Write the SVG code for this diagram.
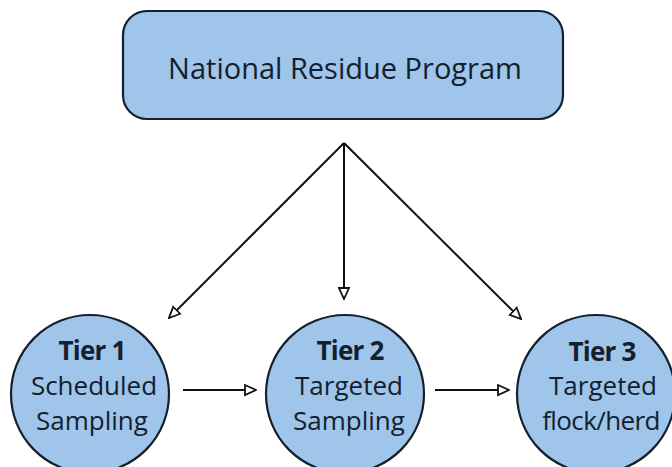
<svg xmlns="http://www.w3.org/2000/svg" width="672" height="467" viewBox="0 0 672 467">
<defs>
<style>
.node{fill:#9fc5eb;stroke:#16202c;stroke-width:2.2}
.t{font-family:"Open Sans","Noto Sans","Liberation Sans",sans-serif;fill:#14202e;text-anchor:middle}
.b{font-weight:bold;font-size:26px;letter-spacing:-0.8px}
.r{font-size:26px}
.c{stroke:#111;stroke-width:2;fill:none}
</style>
<marker id="ah" viewBox="0 0 13 13" refX="12" refY="6.5" markerWidth="13" markerHeight="13" markerUnits="userSpaceOnUse" orient="auto">
<path d="M1,1.5 L12,6.5 L1,11.5 Z" fill="#fff" stroke="#111" stroke-width="1.8" stroke-linejoin="miter"/>
</marker>
</defs>
<rect width="672" height="467" fill="#fff"/>
<g id="connectors">
<line class="c" x1="344" y1="143" x2="169" y2="318" marker-end="url(#ah)"/>
<line class="c" x1="344" y1="143" x2="344" y2="299" marker-end="url(#ah)"/>
<line class="c" x1="344" y1="143" x2="521" y2="319" marker-end="url(#ah)"/>
<line class="c" x1="183" y1="390" x2="256" y2="390" marker-end="url(#ah)"/>
<line class="c" x1="435" y1="390" x2="509" y2="390" marker-end="url(#ah)"/>
</g>
<g id="national">
<rect class="node" x="123" y="11" width="440" height="108" rx="24"/>
<text class="t" x="345" y="79" font-size="29">National Residue Program</text>
</g>
<g id="tier1">
<circle class="node" cx="90" cy="394" r="79"/>
<text class="t b" x="92" y="360">Tier 1</text>
<text class="t r" x="94" y="395">Scheduled</text>
<text class="t r" x="92" y="430">Sampling</text>
</g>
<g id="tier2">
<circle class="node" cx="345" cy="394" r="79"/>
<text class="t b" x="350" y="360">Tier 2</text>
<text class="t r" x="349" y="395">Targeted</text>
<text class="t r" x="349" y="430">Sampling</text>
</g>
<g id="tier3">
<circle class="node" cx="596" cy="394" r="79"/>
<text class="t b" x="602" y="361">Tier 3</text>
<text class="t r" x="603" y="395">Targeted</text>
<text class="t r" x="601" y="430" letter-spacing="-0.6">flock/herd</text>
</g>
</svg>
